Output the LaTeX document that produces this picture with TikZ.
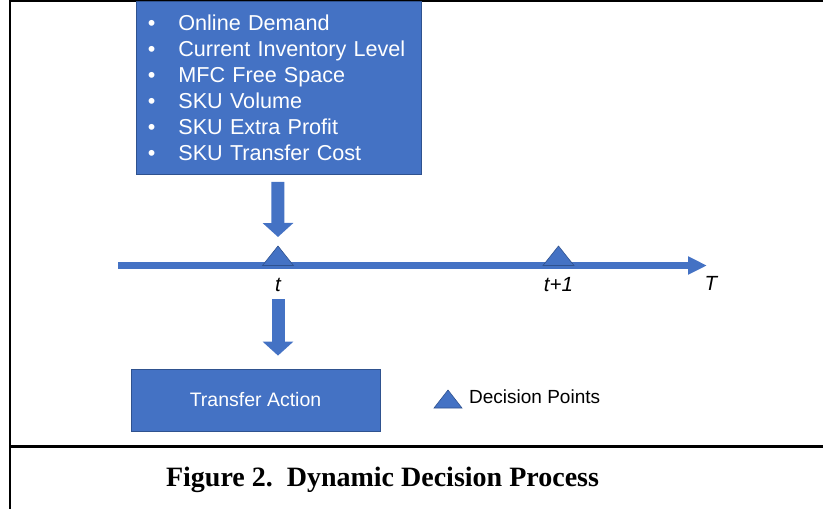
\documentclass[tikz,border=0pt]{standalone}
\usepackage{fontspec}
\setmainfont{Liberation Sans}
\newfontfamily\captionfont{Liberation Serif}
\usetikzlibrary{arrows.meta,calc,positioning}
\definecolor{officeblue}{HTML}{4472C4}
\definecolor{officeedge}{HTML}{2F528F}

\begin{document}
\begin{tikzpicture}[x=1pt,y=-1pt,
  bluebox/.style={draw=officeedge,line width=0.8pt,fill=officeblue,text=white,inner sep=0pt},
  blockarrow/.style={officeblue,line width=13pt,-{Triangle[width=30pt,length=14pt]}},
  dpmark/.style={draw=officeedge,line width=0.6pt,fill=officeblue,line join=miter},
  ticklabel/.style={font=\fontsize{20.5}{24}\selectfont\itshape,inner sep=0pt}]
  \useasboundingbox (0,0) rectangle (823,509);
  % Frame of the figure
  \draw[line width=2.6pt] (10,0) -- (10,509);
  \draw[line width=2.6pt] (10,1) -- (823,1);
  \draw[line width=2.6pt] (10,446.5) -- (823,446.5);
  % State box
  \node[bluebox,anchor=north west,minimum width=285pt,minimum height=173pt,
        text width=262pt,inner xsep=11.5pt,align=left,
        font=\fontsize{21.6}{26}\selectfont] (inputs) at (136,1)
    {\makebox[30.5pt][l]{\textbullet}Online Demand\\
     \makebox[30.5pt][l]{\textbullet}Current Inventory Level\\
     \makebox[30.5pt][l]{\textbullet}MFC Free Space\\
     \makebox[30.5pt][l]{\textbullet}SKU Volume\\
     \makebox[30.5pt][l]{\textbullet}SKU Extra Profit\\
     \makebox[30.5pt][l]{\textbullet}SKU Transfer Cost};
  % Time axis
  \coordinate (tstart) at (118,265.5);
  \coordinate (tend) at (707,265.5);
  \coordinate (tnow) at (278,265.5);
  \coordinate (tnext) at (558.5,265.5);
  \draw[officeblue,line width=6.5pt,-{Triangle[width=17pt,length=19pt]}] (tstart) -- (tend);
  \draw[dpmark] ($(tnow)+(-15.5,0)$) -- ($(tnow)+(0,-19.5)$) -- ($(tnow)+(15.5,0)$) -- cycle;
  \draw[dpmark] ($(tnext)+(-15.5,0)$) -- ($(tnext)+(0,-19.5)$) -- ($(tnext)+(15.5,0)$) -- cycle;
  \node[ticklabel] (tlab) at ($(tnow)+(0,19.5)$) {t};
  \node[ticklabel] (tnextlab) at ($(tnext)+(0,19.5)$) {t+1};
  \node[ticklabel] (Tlab) at ($(tend)+(4,18)$) {T};
  % Action box
  \node[bluebox,minimum width=249pt,minimum height=62pt,
        font=\fontsize{19.5}{23}\selectfont] (action) at (255.5,400) {Transfer Action};
  % Block arrows
  \draw[blockarrow] ($(inputs.south)+(-1,7)$) -- ($(tnow)+(0,-28.5)$);
  \draw[blockarrow] ($(tlab.center)+(0,14)$) -- ($(tlab.center |- action.north)+(0,-13)$);
  % Legend
  \coordinate (legmark) at (448,408);
  \draw[dpmark] ($(legmark)+(-14,0)$) -- ($(legmark)+(0,-18)$) -- ($(legmark)+(14,0)$) -- cycle;
  \node[anchor=west,inner sep=0pt,font=\fontsize{19}{22}\selectfont] (legtext) at ($(legmark)+(21,-11)$) {Decision Points};
  % Caption
  \node[font=\captionfont\bfseries\fontsize{28}{32}\selectfont] (caption) at (382.5,480)
    {Figure 2.\ \ Dynamic Decision Process};
\end{tikzpicture}
\end{document}
